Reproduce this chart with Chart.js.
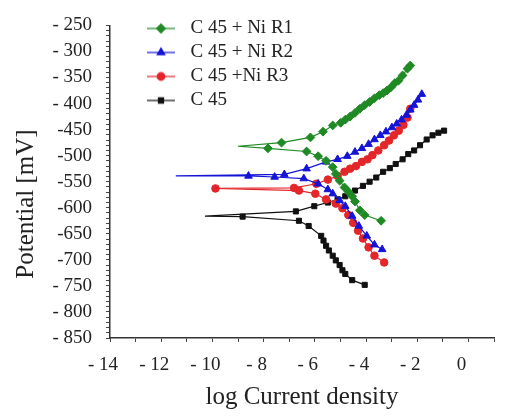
<!DOCTYPE html>
<html>
<head>
<meta charset="utf-8">
<script src="https://cdn.jsdelivr.net/npm/chart.js@4/dist/chart.umd.min.js"></script>
<style>
  body { margin: 0; background: #fff; }
</style>
</head>
<body>
<canvas id="tafel" width="506" height="416"></canvas>
<script>
// series: cathodic end -> corrosion potential -> anodic end
const r1X = [-3.41, -4.05, -4.24, -4.43, -4.54, -4.69, -4.84, -5.03, -5.18, -5.30, -5.56, -5.87, -6.32, -7.83, -9.00,
  -7.30, -6.17, -5.68, -5.30, -4.99, -4.81, -4.62, -4.43, -4.24, -4.05, -3.86, -3.67, -3.48, -3.33, -3.18, -3.03, -2.88, -2.73, -2.57, -2.38, -2.27]
const r1Y = [-625, -614, -605, -588, -578, -569, -561, -548, -535, -522, -510, -501, -492, -486, -482,
  -475, -465, -454, -442, -437, -431, -425, -418, -410, -403, -397, -390, -384, -380, -375, -369, -361, -356, -346, -333, -327]

const r2X = [-3.37, -3.67, -3.97, -4.28, -4.54, -4.81, -5.03, -5.30, -5.49, -5.87, -6.43, -7.57, -8.59, -11.43,
  -7.19, -6.32, -5.56, -5.11, -4.73, -4.43, -4.16, -3.90, -3.67, -3.44, -3.22, -2.99, -2.80, -2.61, -2.42, -2.27, -2.12, -1.97, -1.82]
const r2Y = [-680, -671, -654, -635, -616, -597, -586, -573, -565, -554, -544, -541, -539, -539,
  -536, -525, -512, -507, -501, -493, -486, -478, -469, -461, -454, -446, -439, -431, -422, -412, -403, -393, -382]

const r3X = [-3.29, -3.67, -3.90, -4.12, -4.31, -4.50, -4.69, -4.92, -5.18, -5.56, -5.98, -6.62, -9.88,
  -6.81, -5.94, -5.49, -5.11, -4.84, -4.62, -4.39, -4.16, -3.94, -3.75, -3.52, -3.29, -3.10, -2.91, -2.72, -2.54, -2.38, -2.27]
const r3Y = [-705, -692, -676, -659, -644, -629, -614, -601, -592, -584, -573, -567, -563,
  -562, -554, -546, -539, -531, -525, -520, -512, -507, -499, -490, -480, -471, -461, -452, -441, -427, -410]

const c45X = [-4.05, -4.54, -4.81, -4.92, -5.03, -5.18, -5.30, -5.45, -5.56, -5.66, -5.75, -6.24, -6.62, -8.82, -10.29,
  -6.74, -6.02, -5.49, -5.11, -4.81, -4.43, -4.12, -3.86, -3.60, -3.33, -3.07, -2.84, -2.57, -2.35, -2.12, -1.89, -1.63, -1.40, -1.17, -0.95]
const c45Y = [-748, -739, -727, -720, -710, -701, -692, -682, -673, -663, -654, -635, -625, -617, -616,
  -607, -597, -590, -584, -578, -567, -558, -550, -542, -531, -524, -516, -507, -497, -490, -480, -469, -461, -456, -452]

const seriesNames = ['C 45 + Ni R1', 'C 45 + Ni R2', 'C 45 +Ni R3', 'C 45']

const yTickValues = [-250, -300, -350, -400, -450, -500, -550, -600, -650, -700, -750, -800, -850]
const yTickLabels = ['- 250', '- 300', '- 350', '- 400', '-450', '-500', '-550', '-600', '-650', '-700', '- 750', '- 800', '- 850']
const xTickValues = [-14, -12, -10, -8, -6, -4, -2, 0]
const xTickLabels = ['- 14', '- 12', '- 10', '- 8', '- 6', '- 4', '- 2', '0']

const xTitle = 'log Current density'
const yTitle = 'Potential [mV]'

const serif = 'Liberation Serif'
const ink = '#222'

function toPoints(xs, ys) {
    return xs.map((x, i) => ({ x: x, y: ys[i] }))
}

// small line + marker picture for the legend
function legendIcon(color, style, radius) {
    const c = document.createElement('canvas')
    c.width = 66
    c.height = 20
    const ctx = c.getContext('2d')
    ctx.strokeStyle = color
    ctx.fillStyle = color
    ctx.lineWidth = 1.2
    ctx.beginPath()
    ctx.moveTo(32, 10)
    ctx.lineTo(60, 10)
    ctx.stroke()
    Chart.helpers.drawPoint(ctx, { pointStyle: style, radius: radius, borderWidth: 1 }, 46, 10)
    return c
}

function makeSet(label, xs, ys, color, style, radius, hideStart) {
    const start = xs.indexOf(Math.min(...xs))
    return {
        label: label,
        data: toPoints(xs, ys),
        showLine: true,
        borderColor: color,
        backgroundColor: color,
        borderWidth: 1.2,
        pointStyle: style,
        pointRadius: ctx => (hideStart && ctx.dataIndex === start) ? 0 : radius,
        pointBorderWidth: 1,
        icon: legendIcon(color, style, radius)
    }
}

const datasets = [
    makeSet(seriesNames[0], r1X, r1Y, '#1f8a24', 'rectRot', 4.4, true),
    makeSet(seriesNames[1], r2X, r2Y, '#1414d8', 'triangle', 4.4, true),
    makeSet(seriesNames[2], r3X, r3Y, '#e3262a', 'circle', 3.8, false),
    makeSet(seriesNames[3], c45X, c45Y, '#111111', 'rect', 3.6, true)
]

// legend sits a bit lower inside the plot, y title sits below the middle
const tweaks = {
    id: 'tweaks',
    afterLayout(chart) {
        chart.legend.top += 14
    },
    afterDraw(chart) {
        const ctx = chart.ctx
        ctx.save()
        ctx.translate(26, 204)
        ctx.rotate(-Math.PI / 2)
        ctx.fillStyle = ink
        ctx.font = '25px "' + serif + '"'
        ctx.textAlign = 'center'
        ctx.textBaseline = 'middle'
        ctx.fillText(yTitle, 0, 0)
        ctx.restore()
    }
}

new Chart('tafel', {
    type: 'scatter',
    data: { datasets },
    plugins: [tweaks],
    options: {
        responsive: false,
        animation: false,
        layout: { padding: { top: 19, right: 0, left: 0, bottom: 0 } },
        plugins: {
            tooltip: { enabled: false },
            legend: {
                position: 'chartArea',
                align: 'start',
                labels: {
                    usePointStyle: true,
                    pointStyleWidth: 66,
                    padding: 5,
                    color: ink,
                    font: { family: serif, size: 19 },
                    generateLabels(chart) {
                        return chart.data.datasets.map((ds, i) => ({
                            text: ds.label,
                            pointStyle: ds.icon,
                            fillStyle: ds.borderColor,
                            strokeStyle: ds.borderColor,
                            lineWidth: 0,
                            fontColor: ink,
                            datasetIndex: i
                        }))
                    }
                }
            }
        },
        scales: {
            x: {
                type: 'linear',
                min: -14,
                max: 1,
                afterFit(scale) { scale.height = 78 },
                border: { color: '#333', width: 1.5 },
                grid: { drawOnChartArea: false, tickLength: 4, color: '#444' },
                ticks: {
                    stepSize: 1,
                    autoSkip: false,
                    maxRotation: 0,
                    padding: 12,
                    labelOffset: -7,
                    color: ink,
                    font: { family: serif, size: 19 },
                    callback: v => {
                        const k = xTickValues.indexOf(Math.round(v))
                        return k < 0 ? '' : xTickLabels[k]
                    }
                },
                title: {
                    display: true,
                    text: xTitle,
                    color: ink,
                    font: { family: serif, size: 25 },
                    padding: { top: 1 }
                }
            },
            y: {
                type: 'linear',
                min: -850,
                max: -250,
                afterFit(scale) { scale.width = 110 },
                border: { color: '#333', width: 1.5 },
                grid: { drawOnChartArea: false, tickLength: 4, color: '#444' },
                ticks: {
                    stepSize: 10,
                    autoSkip: false,
                    padding: 14,
                    color: ink,
                    font: { family: serif, size: 19 },
                    callback: v => {
                        const k = yTickValues.indexOf(Math.round(v))
                        return k < 0 ? '' : yTickLabels[k]
                    }
                }
            }
        }
    }
})
</script>
</body>
</html>
